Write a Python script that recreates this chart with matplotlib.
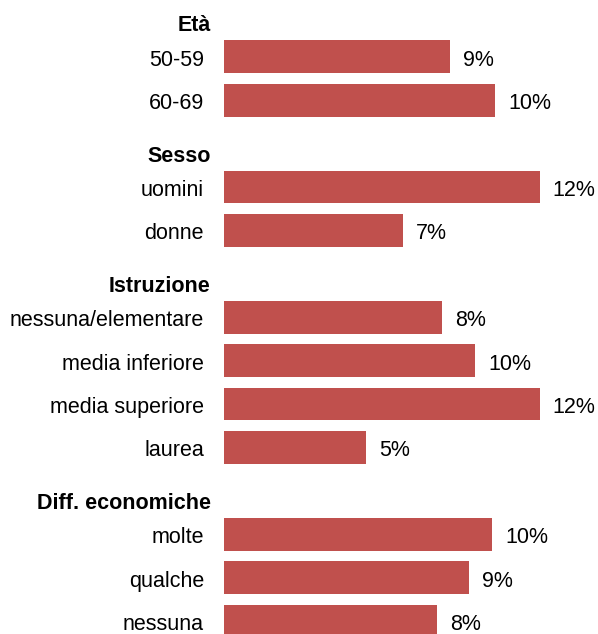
import matplotlib
matplotlib.use('Agg')
import matplotlib.pyplot as plt

plt.rcParams['font.family'] = ['Liberation Sans', 'DejaVu Sans']

# groups, their categories and the share (%) for each category
group_names = ['Età', 'Sesso', 'Istruzione', 'Diff. economiche']
eta_labels = ['50-59', '60-69']
eta_values = [8.6, 10.3]
sesso_labels = ['uomini', 'donne']
sesso_values = [12.0, 6.8]
istruzione_labels = ['nessuna/elementare', 'media inferiore', 'media superiore', 'laurea']
istruzione_values = [8.3, 9.55, 12.0, 5.4]
economia_labels = ['molte', 'qualche', 'nessuna']
economia_values = [10.2, 9.3, 8.1]

groups = [
    (group_names[0], eta_labels, eta_values),
    (group_names[1], sesso_labels, sesso_values),
    (group_names[2], istruzione_labels, istruzione_values),
    (group_names[3], economia_labels, economia_values),
]

bar_color = '#C0504D'
fs = 15.5

W, H = 598, 634
fig = plt.figure(figsize=(W / 100, H / 100), dpi=100)
x0 = 224
ax = fig.add_axes([x0 / W, 0, 1 - x0 / W, 1])

px_per_pct = 26.3
slot = 43.4
first = 13.4
ax.set_xlim(0, (W - x0) / px_per_pct)
ax.set_ylim((H - first) / slot, -first / slot)
ax.axis('off')

pos = 0
for name, labels, values in groups:
    # header sits in its own slot, a bit below the slot centre
    ax.annotate(name, xy=(0, pos), xytext=(-9.6, -13), textcoords='offset points',
                ha='right', va='baseline', fontsize=fs, fontweight='bold',
                annotation_clip=False)
    pos += 1
    for lab, val in zip(labels, values):
        ax.barh(pos, val, height=0.76, color=bar_color)
        ax.annotate(lab, xy=(0, pos), xytext=(-14.4, -6.5), textcoords='offset points',
                    ha='right', va='baseline', fontsize=fs, annotation_clip=False)
        ax.annotate(f'{round(val)}%', xy=(val, pos), xytext=(9.4, -6.5),
                    textcoords='offset points', ha='left', va='baseline',
                    fontsize=fs, annotation_clip=False)
        pos += 1

fig.savefig('out.png', dpi=100)
